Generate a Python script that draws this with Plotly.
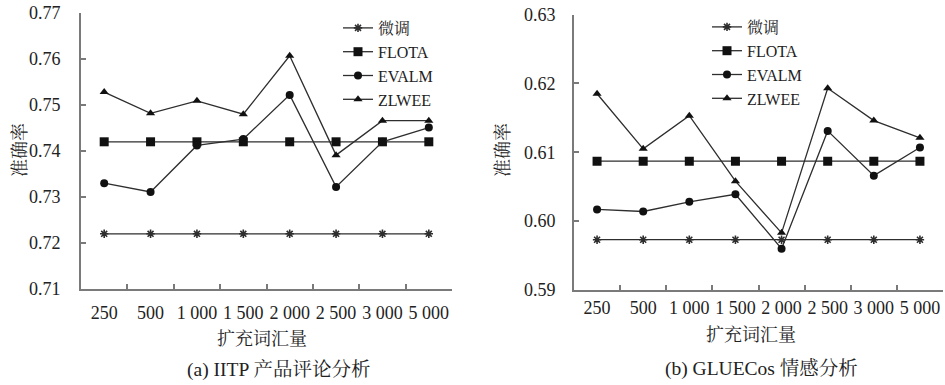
import plotly.graph_objects as go

categories = ["250", "500", "1 000", "1 500", "2 000", "2 500", "3 000", "5 000"]
series_names = ["微调", "FLOTA", "EVALM", "ZLWEE"]

# (a) IITP
iitp_finetune = [0.722, 0.722, 0.722, 0.722, 0.722, 0.722, 0.722, 0.722]
iitp_flota = [0.742, 0.742, 0.742, 0.742, 0.742, 0.742, 0.742, 0.742]
iitp_evalm = [0.733, 0.7311, 0.7412, 0.7426, 0.7522, 0.7322, 0.742, 0.7451]
iitp_zlwee = [0.7528, 0.7482, 0.7509, 0.748, 0.7607, 0.7391, 0.7466, 0.7466]

# (b) GLUECos
glue_finetune = [0.5973, 0.5973, 0.5973, 0.5973, 0.5973, 0.5973, 0.5973, 0.5973]
glue_flota = [0.6087, 0.6087, 0.6087, 0.6087, 0.6087, 0.6087, 0.6087, 0.6087]
glue_evalm = [0.6017, 0.6014, 0.6028, 0.6039, 0.596, 0.6131, 0.6066, 0.6107]
glue_zlwee = [0.6185, 0.6105, 0.6153, 0.6058, 0.5983, 0.6193, 0.6146, 0.6121]

W, H = 945, 385
FONT = "Liberation Serif, 'Noto Serif CJK SC', 'Noto Sans CJK SC', serif"
LINE = "#2e2e2e"
AXIS = "#7a7a7a"
TXT = "#222222"

markers = [
    dict(symbol="asterisk-open", size=7, line=dict(width=1.6, color=LINE)),
    dict(symbol="square", size=9, color="#111111"),
    dict(symbol="circle", size=8, color="#111111"),
    dict(symbol="triangle-up", size=8, color="#111111"),
]

fig = go.Figure()

def add(values_list, xa, ya, legend):
    for name, vals, mk in zip(series_names, values_list, markers):
        fig.add_trace(go.Scatter(
            x=categories, y=vals, name=name, mode="lines+markers",
            line=dict(color=LINE, width=1.3), marker=mk,
            xaxis=xa, yaxis=ya, legend=legend,
        ))

add([iitp_finetune, iitp_flota, iitp_evalm, iitp_zlwee], "x", "y", "legend")
add([glue_finetune, glue_flota, glue_evalm, glue_zlwee], "x2", "y2", "legend2")

def px(x):
    return x / W

def py(y):
    return 1 - y / H

xcommon = dict(type="category", range=[-0.5, 7.5], tickson="boundaries", automargin=False,
               ticks="inside", ticklen=5, tickcolor=AXIS, tickwidth=1.5, tickangle=0,
               showline=True, linecolor=AXIS, linewidth=2, showgrid=False,
               zeroline=False, tickfont=dict(family=FONT, size=18, color=TXT))
ycommon = dict(ticks="inside", ticklen=5, tickcolor=AXIS, tickwidth=1.5, automargin=False,
               showline=True, linecolor=AXIS, linewidth=2, showgrid=False,
               zeroline=False, dtick=0.01, tickformat=".2f",
               tickfont=dict(family=FONT, size=18, color=TXT))

fig.update_layout(
    width=W, height=H,
    margin=dict(l=0, r=0, t=0, b=0, autoexpand=False),
    paper_bgcolor="white", plot_bgcolor="white",
    font=dict(family=FONT, size=17, color=TXT),
    xaxis=dict(domain=[px(81), px(452)], anchor="y", ticklabelstandoff=6, **xcommon),
    yaxis=dict(domain=[py(289), py(13)], anchor="x", range=[0.71, 0.77], ticklabelstandoff=15, **ycommon),
    xaxis2=dict(domain=[px(574), px(943)], anchor="y2", ticklabelstandoff=0, **xcommon),
    yaxis2=dict(domain=[py(290), py(14.5)], anchor="x2", range=[0.59, 0.63], ticklabelstandoff=13, **ycommon),
    legend=dict(x=px(338), y=py(11), xanchor="left", yanchor="top",
                bgcolor="rgba(0,0,0,0)", font=dict(family=FONT, size=16, color=TXT),
                tracegroupgap=0, itemwidth=30),
    legend2=dict(x=px(707), y=py(10), xanchor="left", yanchor="top",
                 bgcolor="rgba(0,0,0,0)", font=dict(family=FONT, size=16, color=TXT),
                 tracegroupgap=0, itemwidth=30),
    showlegend=True,
)

ann = [
    dict(text="准确率", x=px(20), y=py(150), textangle=-90, size=18),
    dict(text="准确率", x=px(503), y=py(150), textangle=-90, size=18),
    dict(text="扩充词汇量", x=px(262), y=py(339), textangle=0, size=18),
    dict(text="扩充词汇量", x=px(751), y=py(335), textangle=0, size=18),
    dict(text="(a) IITP 产品评论分析", x=px(278), y=py(370), textangle=0, size=19.5),
    dict(text="(b) GLUECos 情感分析", x=px(761), y=py(368), textangle=0, size=19.5),
]
for a in ann:
    fig.add_annotation(text=a["text"], x=a["x"], y=a["y"], xref="paper", yref="paper",
                       xanchor="center", yanchor="middle", showarrow=False,
                       textangle=a["textangle"], font=dict(family=FONT, size=a["size"], color=TXT))

fig.write_html("out.html", config={"displayModeBar": False},
               post_script="document.body.style.margin='0';document.body.style.overflow='hidden';")
